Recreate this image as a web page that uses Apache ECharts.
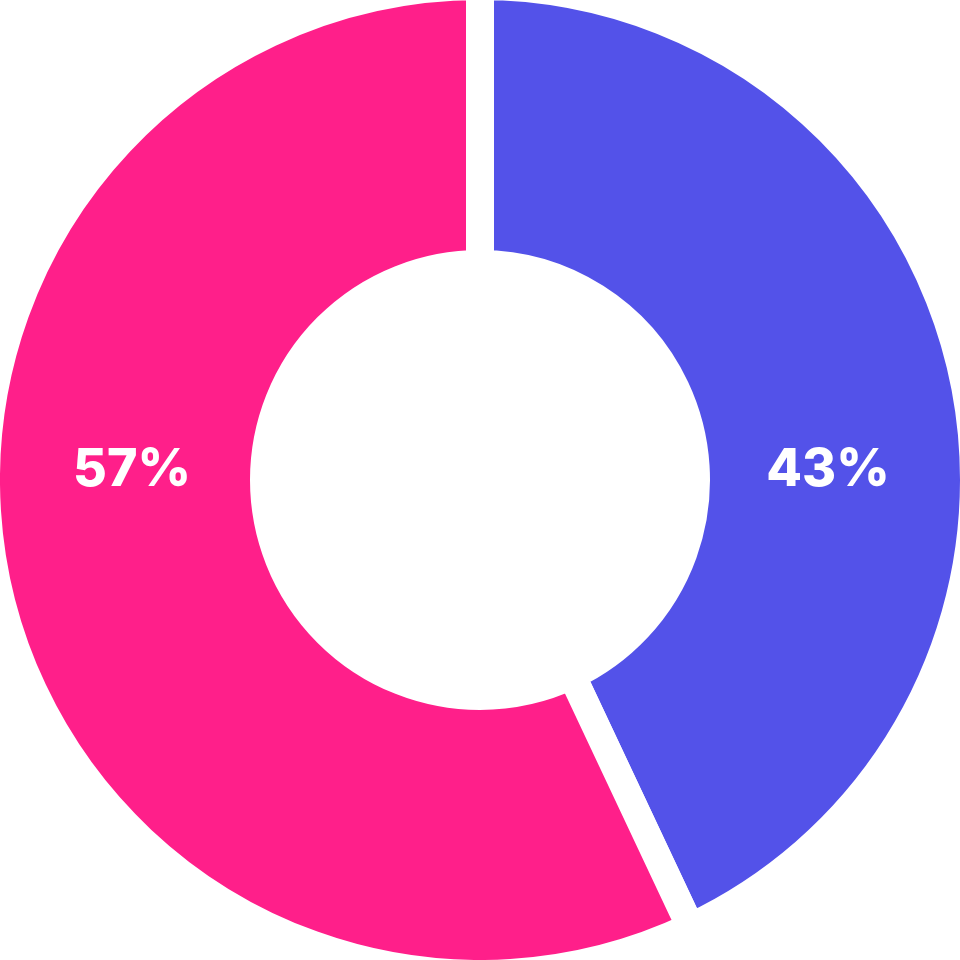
<!DOCTYPE html>
<html>
<head>
<meta charset="utf-8">
<script src="https://cdn.jsdelivr.net/npm/echarts@6/dist/echarts.min.js"></script>
<style>
html,body{margin:0;padding:0;background:#fff;}
#chart{width:960px;height:960px;}
</style>
</head>
<body>
<div id="chart"></div>
<script>
const categories = ['A', 'B'];
const values = [43, 57];
const colors = ['#5352E9', '#FF1F8A'];

const chart = echarts.init(document.getElementById('chart'), null, {renderer: 'canvas'});
const innerR = 216, outerR = 494;
const midR = 348;
chart.setOption({
  animation: false,
  backgroundColor: '#ffffff',
  series: [{
    type: 'pie',
    center: ['50%', '50%'],
    radius: [innerR, outerR],
    startAngle: 90,
    clockwise: true,
    avoidLabelOverlap: false,
    silent: true,
    data: categories.map((c, i) => ({
      name: c,
      value: values[i],
      itemStyle: {color: colors[i]}
    })),
    itemStyle: {borderColor: '#ffffff', borderWidth: 28, borderJoin: 'miter'},
    label: {
      show: true,
      position: 'inside',
      formatter: p => p.value + '%',
      color: '#ffffff',
      fontFamily: 'Inter',
      fontWeight: 800,
      fontSize: 52
    },
    labelLine: {show: false},
    labelLayout: function (params) {
      const cx = chart.getWidth() / 2, cy = chart.getHeight() / 2;
      const side = params.dataIndex === 0 ? 1 : -1;
      return {x: cx + side * midR, y: cy - 10, align: 'center', verticalAlign: 'middle'};
    }
  }]
});
</script>
</body>
</html>
